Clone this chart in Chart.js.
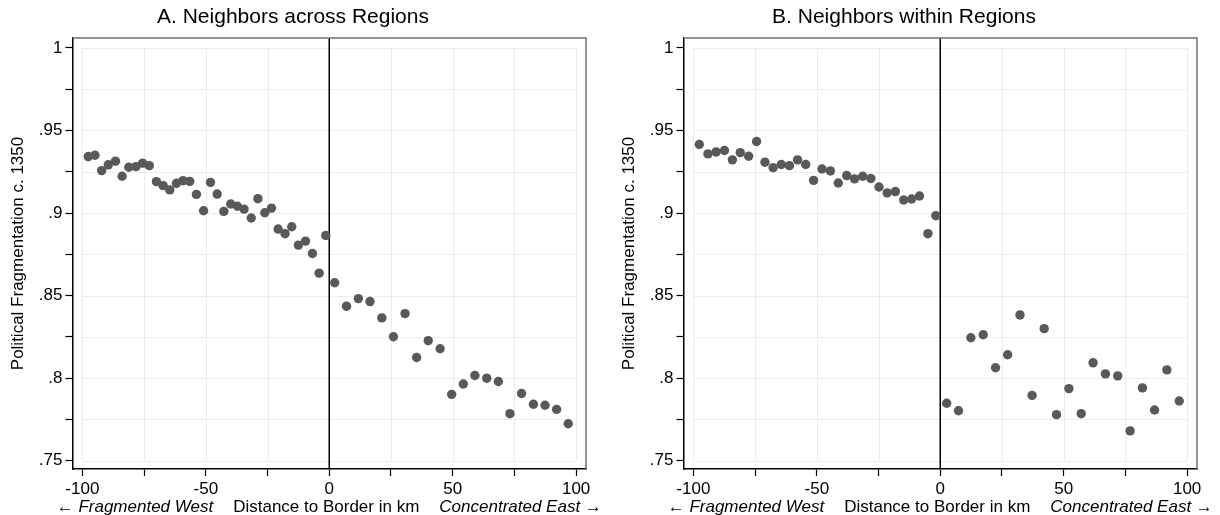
<!DOCTYPE html>
<html>
<head>
<meta charset="utf-8">
<script src="https://cdn.jsdelivr.net/npm/chart.js@4.4.0/dist/chart.umd.min.js"></script>
<style>
  body { margin: 0; background: #fff; }
  #wrap { position: relative; width: 1220px; height: 515px; overflow: hidden; }
  canvas { position: absolute; top: 0; }
</style>
</head>
<body>
<div id="wrap">
  <canvas id="across" width="601" height="515" style="left:0px"></canvas>
  <canvas id="within" width="609" height="515" style="left:611px"></canvas>
</div>
<script>
// axis ticks
const xTicks = [-100, -75, -50, -25, 0, 25, 50, 75, 100];
const xTickLabels = ['-100', '', '-50', '', '0', '', '50', '', '100'];
const yTicks = [0.75, 0.775, 0.8, 0.825, 0.85, 0.875, 0.9, 0.925, 0.95, 0.975, 1];
const yTickLabels = ['.75', '', '.8', '', '.85', '', '.9', '', '.95', '', '1'];

// A. neighbors across regions
const acrossKm = [-97.6, -94.9, -92.2, -89.5, -86.6, -83.9, -81.2, -78.3, -75.6, -72.9,
  -70.0, -67.3, -64.6, -61.9, -59.2, -56.5, -53.8, -50.9, -48.1, -45.4,
  -42.7, -39.9, -37.2, -34.5, -31.6, -28.9, -26.1, -23.4, -20.7, -17.9,
  -15.2, -12.5, -9.6, -6.8, -4.1, -1.4,
  2.2, 7.0, 11.8, 16.5, 21.3, 26.0, 30.7, 35.4, 40.1, 44.9,
  49.6, 54.3, 59.0, 63.8, 68.5, 73.2, 77.9, 82.7, 87.4, 92.1, 96.8];
const acrossFrag = [.9342, .9350, .9257, .9292, .9314, .9223, .9277, .9281, .9302, .9287,
  .9190, .9166, .9140, .9180, .9196, .9192, .9113, .9014, .9186, .9115,
  .9010, .9055, .9041, .9024, .8970, .9087, .9002, .9030, .8903, .8875,
  .8917, .8806, .8830, .8755, .8636, .8864,
  .8578, .8436, .8482, .8464, .8365, .8251, .8391, .8125, .8227, .8178,
  .7902, .7965, .8016, .8000, .7980, .7785, .7907, .7842, .7836, .7811, .7724];

// B. neighbors within regions
const withinKm = [-97.6, -94.1, -90.8, -87.4, -84.2, -81.0, -77.6, -74.4, -71.0, -67.7,
  -64.4, -61.1, -57.8, -54.5, -51.3, -47.9, -44.5, -41.3, -37.9, -34.7,
  -31.4, -28.1, -24.8, -21.5, -18.2, -14.8, -11.6, -8.4, -5.0, -1.8,
  2.6, 7.4, 12.4, 17.4, 22.4, 27.3, 32.3, 37.2, 42.1, 47.1,
  52.1, 57.1, 61.9, 66.9, 71.9, 76.9, 81.9, 86.8, 91.8, 96.8];
const withinFrag = [.9415, .9358, .9370, .9379, .9322, .9366, .9344, .9433, .9308, .9275,
  .9294, .9287, .9322, .9294, .9198, .9267, .9255, .9182, .9227, .9207,
  .9223, .9209, .9158, .9122, .9130, .9079, .9085, .9103, .8875, .8984,
  .7848, .7803, .8245, .8263, .8063, .8142, .8383, .7896, .8300, .7779,
  .7937, .7785, .8093, .8026, .8014, .7681, .7941, .7807, .8050, .7862];

const FONT = '"Liberation Sans", Arial, Helvetica, sans-serif';
const TXT = 17;

// stata-like grid (inner region only), zero line, frame and the mixed-style x title
const stataLook = {
  id: 'stataLook',
  beforeDatasetsDraw(chart) {
    const { ctx, chartArea, scales: { x, y } } = chart;
    const gx0 = x.getPixelForValue(xTicks[0]), gx1 = x.getPixelForValue(xTicks[xTicks.length - 1]);
    const gy0 = y.getPixelForValue(yTicks[yTicks.length - 1]), gy1 = y.getPixelForValue(yTicks[0]);
    ctx.save();
    ctx.strokeStyle = '#ececec';
    ctx.lineWidth = 1;
    ctx.beginPath();
    xTicks.forEach(v => {
      const p = Math.round(x.getPixelForValue(v)) + 0.5;
      ctx.moveTo(p, gy0); ctx.lineTo(p, gy1);
    });
    yTicks.forEach(v => {
      const p = Math.round(y.getPixelForValue(v)) + 0.5;
      ctx.moveTo(gx0, p); ctx.lineTo(gx1, p);
    });
    ctx.stroke();
    // border line at zero
    const z = x.getPixelForValue(0);
    ctx.strokeStyle = '#000';
    ctx.lineWidth = 1.5;
    ctx.beginPath();
    ctx.moveTo(z, chartArea.top); ctx.lineTo(z, chartArea.bottom);
    ctx.stroke();
    ctx.restore();
  },
  afterDraw(chart) {
    const { ctx, chartArea } = chart;
    ctx.save();
    ctx.strokeStyle = '#707070';
    ctx.lineWidth = 1.5;
    ctx.beginPath();
    ctx.moveTo(chartArea.left, chartArea.top);
    ctx.lineTo(chartArea.right, chartArea.top);
    ctx.lineTo(chartArea.right, chartArea.bottom);
    ctx.stroke();

    const parts = [
      { t: '\u2190 Fragmented West', f: 'italic ' + TXT + 'px ' + FONT },
      { t: 'Distance to Border in km', f: TXT + 'px ' + FONT },
      { t: 'Concentrated East \u2192', f: 'italic ' + TXT + 'px ' + FONT }
    ];
    const gap = 20;
    let total = gap * 2;
    parts.forEach(p => { ctx.font = p.f; p.w = ctx.measureText(p.t).width; total += p.w; });
    let cx = (chartArea.left + chartArea.right) / 2 - total / 2;
    ctx.fillStyle = '#000';
    ctx.textBaseline = 'alphabetic';
    ctx.textAlign = 'left';
    parts.forEach(p => {
      ctx.font = p.f;
      ctx.fillText(p.t, cx, chart.height - 3);
      cx += p.w + gap;
    });
    ctx.restore();
  }
};

function makeChart(id, title, km, frag, padRight) {
  return new Chart(document.getElementById(id), {
    type: 'scatter',
    data: {
      datasets: [{
        data: km.map((v, i) => ({ x: v, y: frag[i] })),
        backgroundColor: '#595959',
        borderWidth: 0,
        pointRadius: 4.7,
        pointHoverRadius: 4.7
      }]
    },
    options: {
      responsive: false,
      animation: false,
      events: [],
      layout: { padding: { left: 0, right: padRight, top: 0, bottom: 0 } },
      plugins: {
        legend: { display: false },
        tooltip: { enabled: false },
        title: {
          display: true,
          text: title,
          color: '#000',
          font: { family: FONT, size: 21, weight: 'normal' },
          padding: { top: 5, bottom: 7.8 }
        }
      },
      scales: {
        x: {
          type: 'linear',
          min: -104,
          max: 104,
          afterBuildTicks: s => { s.ticks = xTicks.map(v => ({ value: v })); },
          afterFit: s => { s.height = 46; },
          ticks: {
            autoSkip: false,
            maxRotation: 0,
            padding: 3,
            color: '#000',
            font: { family: FONT, size: TXT },
            callback: (v, i) => xTickLabels[i]
          },
          grid: { drawOnChartArea: false, drawTicks: true, tickLength: 7, tickColor: '#000', tickWidth: 1.2 },
          border: { display: true, color: '#000', width: 1.5 }
        },
        y: {
          type: 'linear',
          min: 0.745,
          max: 1.006,
          afterBuildTicks: s => { s.ticks = yTicks.map(v => ({ value: v })); },
          afterFit: s => { s.width = 72.5; },
          ticks: {
            autoSkip: false,
            padding: 3,
            color: '#000',
            font: { family: FONT, size: TXT },
            callback: (v, i) => yTickLabels[i]
          },
          title: {
            display: true,
            text: 'Political Fragmentation c. 1350',
            color: '#000',
            font: { family: FONT, size: TXT },
            padding: { top: 8, bottom: 0 }
          },
          grid: { drawOnChartArea: false, drawTicks: true, tickLength: 7, tickColor: '#000', tickWidth: 1.2 },
          border: { display: true, color: '#000', width: 1.5 }
        }
      }
    },
    plugins: [stataLook]
  });
}

makeChart('across', 'A. Neighbors across Regions', acrossKm, acrossFrag, 15);
makeChart('within', 'B. Neighbors within Regions', withinKm, withinFrag, 23);
</script>
</body>
</html>
